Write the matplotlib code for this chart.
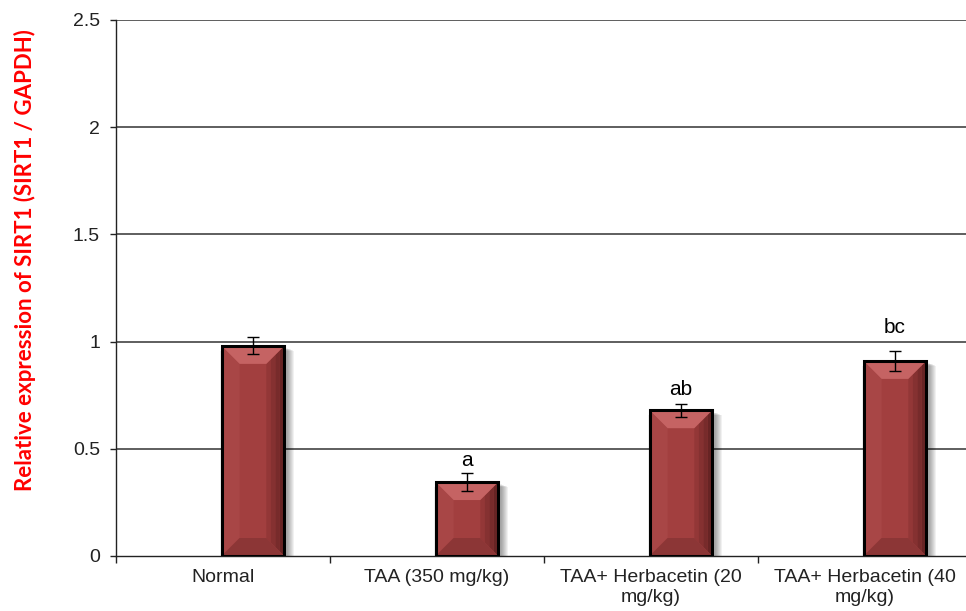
import matplotlib
matplotlib.use("Agg")
import matplotlib.pyplot as plt
import matplotlib.transforms as mtransforms
from matplotlib.patches import Polygon, Rectangle

# Data
groups = ["Normal", "TAA (350 mg/kg)", "TAA+ Herbacetin (20\nmg/kg)", "TAA+ Herbacetin (40\nmg/kg)"]
means = [0.98, 0.345, 0.68, 0.91]
errors = [0.04, 0.04, 0.03, 0.047]
letters = ["", "a", "ab", "bc"]
letter_y = [0.0, 0.42, 0.75, 1.04]
yticks = [0, 0.5, 1, 1.5, 2, 2.5]
ytick_labels = ["0", "0.5", "1", "1.5", "2", "2.5"]
ylabel = "Relative expression of SIRT1 (SIRT1 / GAPDH)"

W, H = 966, 611
fig = plt.figure(figsize=(W / 100, H / 100), dpi=100)
ax = fig.add_axes([116 / W, 55 / H, 856 / W, 536 / H])
ax.set_xlim(0, len(groups))
ax.set_ylim(0, 2.5)

for s in ("top", "right"):
    ax.spines[s].set_visible(False)
for s in ("left", "bottom"):
    ax.spines[s].set_color("#222222")
    ax.spines[s].set_linewidth(1.0)

ax.set_yticks(yticks)
ax.set_yticklabels(ytick_labels, fontsize=14, family="Liberation Sans", color="#222222")
ax.tick_params(axis="y", length=4.5, width=1, color="#222222", pad=7)
for y in yticks[1:]:
    ax.axhline(y, color="#333333", lw=1.1, zorder=1)

# category boundaries carry tick marks, centres carry labels
ax.set_xticks(range(len(groups) + 1))
ax.set_xticklabels([])
ax.set_xticks([i + 0.5 for i in range(len(groups))], minor=True)
ax.set_xticklabels(groups, minor=True, fontsize=14, family="Liberation Sans",
                   color="#222222", linespacing=1.25)
ax.tick_params(axis="x", which="major", length=5, width=1, color="#222222", direction="out")
ax.tick_params(axis="x", which="minor", length=0, pad=9)

# bevelled bars
offset = 0.14
width = 0.293
px_x = ax.bbox.width / len(groups)
px_y = ax.bbox.height / 2.5
bev = 18
dx, dy = bev / px_x, bev / px_y

main = "#a23f3f"
top_c = "#c56363"
bot_c = "#8c3636"
left_c = "#a84646"

shadow_tr = mtransforms.offset_copy(ax.transData, fig=fig, x=3, y=-2, units="dots")
for i, (m, e) in enumerate(zip(means, errors)):
    xc = i + 0.5 + offset
    x0, x1 = xc - width / 2, xc + width / 2
    # soft shadow
    for k in range(1, 8):
        ex, ey = k / px_x, k / px_y
        ax.add_patch(Rectangle((x0 - ex * 0.6, -ey), width + ex * 1.6, m + ey * 0.6,
                               transform=shadow_tr, facecolor="black", edgecolor="none",
                               alpha=0.055, zorder=2))
    ax.add_patch(Rectangle((x0, 0), width, m, facecolor=main, edgecolor="none", zorder=3))
    ddy = min(dy, m / 2)
    ax.add_patch(Polygon([(x0, 0), (x0 + dx, ddy), (x0 + dx, m - ddy), (x0, m)],
                         facecolor=left_c, edgecolor="none", zorder=3))
    # right side: darkening strips
    shades = ["#933737", "#853131", "#772b2b", "#672424"]
    n = len(shades)
    for j, c in enumerate(shades):
        a = dx * (1 - j / n)
        b = dx * (1 - (j + 1) / n)
        fa = a / dx
        fb = b / dx
        ax.add_patch(Polygon([(x1 - a, ddy * fa), (x1 - b, ddy * fb),
                              (x1 - b, m - ddy * fb), (x1 - a, m - ddy * fa)],
                             facecolor=c, edgecolor="none", zorder=3))
    ax.add_patch(Polygon([(x0, m), (x1, m), (x1 - dx, m - ddy), (x0 + dx, m - ddy)],
                         facecolor=top_c, edgecolor="none", zorder=3))
    ax.add_patch(Polygon([(x0, 0), (x1, 0), (x1 - dx, ddy), (x0 + dx, ddy)],
                         facecolor=bot_c, edgecolor="none", zorder=3))
    ax.add_patch(Rectangle((x0, 0), width, m, facecolor="none", edgecolor="black",
                           lw=2.2, zorder=4))
    ax.errorbar(xc, m, yerr=e, fmt="none", ecolor="black", elinewidth=1.0,
                capsize=4.5, capthick=1.0, zorder=5)
    if letters[i]:
        ax.text(xc, letter_y[i], letters[i], ha="center", va="baseline",
                fontsize=15, family="Liberation Sans", color="black", zorder=6)

fig.text(25 / W, 1 - 260 / H, ylabel, rotation=90, ha="center", va="center",
         color="#ff0000", fontweight="bold", fontsize=16, family="Lato")

fig.savefig("out.png", dpi=100)
